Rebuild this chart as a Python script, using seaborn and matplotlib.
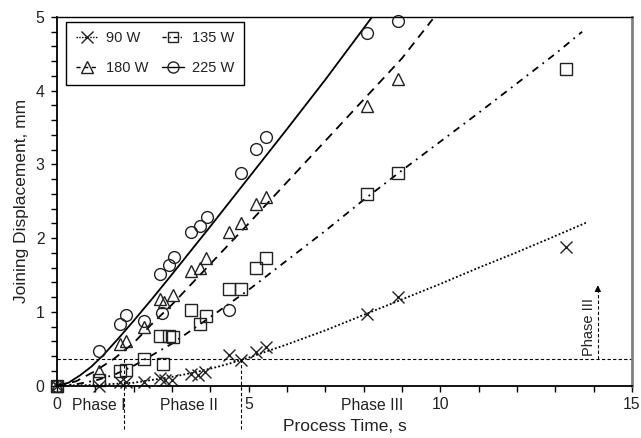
import matplotlib
matplotlib.use("Agg")
import matplotlib.pyplot as plt
from matplotlib.lines import Line2D
import seaborn as sns

# ---- measured points ----
t_90 = [0, 1.09, 1.65, 1.81, 2.28, 2.70, 2.83, 3.00, 3.50, 3.68, 3.85, 4.48, 4.80, 5.20, 5.44, 8.09, 8.89, 13.28]
d_90 = [0, 0.0, 0.05, 0.05, 0.05, 0.11, 0.08, 0.08, 0.16, 0.15, 0.18, 0.41, 0.35, 0.46, 0.53, 0.97, 1.20, 1.88]

t_135 = [0, 1.09, 1.65, 1.81, 2.28, 2.76, 2.70, 2.91, 3.03, 3.50, 3.74, 3.90, 4.48, 4.80, 5.19, 5.45, 8.09, 8.89, 13.28]
d_135 = [0, 0.08, 0.20, 0.21, 0.36, 0.30, 0.67, 0.67, 0.66, 1.02, 0.84, 0.94, 1.31, 1.31, 1.59, 1.73, 2.60, 2.89, 4.30]

t_180 = [0, 1.09, 1.65, 1.81, 2.28, 2.70, 2.78, 3.03, 3.50, 3.74, 3.90, 4.48, 4.80, 5.19, 5.45, 8.09, 8.89]
d_180 = [0, 0.20, 0.57, 0.61, 0.80, 1.18, 1.13, 1.23, 1.55, 1.60, 1.73, 2.09, 2.20, 2.46, 2.56, 3.79, 4.16]

t_225 = [0, 1.09, 1.65, 1.81, 2.28, 2.74, 2.70, 2.91, 3.04, 3.50, 3.74, 3.92, 4.48, 4.81, 5.19, 5.45, 8.09, 8.89]
d_225 = [0, 0.47, 0.84, 0.96, 0.88, 0.98, 1.52, 1.64, 1.74, 2.09, 2.17, 2.29, 1.03, 2.88, 3.21, 3.37, 4.78, 4.95]

# ---- fitted curves ----
ft_90 = [0, 1, 2, 3, 3.5, 4, 4.5, 5, 6, 7, 8, 9, 10, 11, 12, 13, 13.8]
fd_90 = [0, 0.01, 0.04, 0.12, 0.17, 0.23, 0.30, 0.38, 0.56, 0.75, 0.96, 1.17, 1.38, 1.60, 1.81, 2.03, 2.21]

ft_135 = [0, 0.5, 1.0, 1.5, 2.0, 2.5, 3.0, 4.0, 5.0, 6.0, 7.0, 8.0, 9.0, 10, 11, 12, 13, 13.7]
fd_135 = [0, 0.02, 0.07, 0.15, 0.27, 0.42, 0.57, 0.93, 1.30, 1.70, 2.10, 2.52, 2.92, 3.31, 3.70, 4.10, 4.50, 4.80]

ft_180 = [0, 0.5, 1.0, 1.5, 2.0, 2.5, 3.0, 4.0, 5.0, 6.0, 7.0, 8.0, 9.0, 9.8]
fd_180 = [0, 0.06, 0.20, 0.37, 0.58, 0.85, 1.10, 1.65, 2.20, 2.76, 3.32, 3.88, 4.44, 4.97]

ft_225 = [0, 0.3, 0.6, 0.9, 1.2, 1.6, 2.0, 2.5, 3.0, 4.0, 5.0, 6.0, 7.0, 8.22]
fd_225 = [0, 0.04, 0.14, 0.26, 0.41, 0.64, 0.88, 1.19, 1.51, 2.16, 2.82, 3.48, 4.15, 5.0]

labels = ["90 W", "135 W", "180 W", "225 W"]
phase_labels = ["Phase I", "Phase II", "Phase III"]
phase_level = 0.36
phase_bounds = [1.76, 4.80]

sns.set_style("ticks")
plt.rcParams["font.family"] = ["Liberation Sans", "DejaVu Sans"]

fig = plt.figure(figsize=(6.41, 4.38), dpi=100)
ax = fig.add_axes([0.0889, 0.1194, 0.8970, 0.8418])

ink = "#222222"
lw = 1.3
styles = [
    (ft_90, fd_90, t_90, d_90, (0, (1, 1.2)), "x", 8.5),
    (ft_135, fd_135, t_135, d_135, (0, (4, 3, 1, 3)), "s", 8),
    (ft_180, fd_180, t_180, d_180, (0, (5, 3.5)), "^", 8.5),
    (ft_225, fd_225, t_225, d_225, "-", "o", 8.5),
]
leg_styles = [(0, (1, 1)), (0, (3, 2, 1, 2)), (0, (3, 2.5)), "-"]

handles = []
for (ft, fd, t, d, ls, mk, ms), lab, lls in zip(styles, labels, leg_styles):
    sns.lineplot(x=ft, y=fd, ax=ax, color="black", linestyle=ls, linewidth=lw,
                 estimator=None, sort=False)
    l = sns.lineplot(x=t, y=d, ax=ax, estimator=None, sort=False, linestyle="none",
                     marker=mk, markersize=ms, markerfacecolor="none",
                     markeredgecolor=ink, markeredgewidth=1.0, color=ink)
    l.lines[-1].set_clip_on(False)
    handles.append(Line2D([], [], color="black", linestyle=lls, linewidth=1.0,
                          marker=mk, markersize=ms - 0.5, markerfacecolor="none",
                          markeredgecolor=ink, markeredgewidth=1.0))

# phase annotations
ax.axhline(phase_level, color="black", linestyle=(0, (3, 2)), linewidth=0.8)
for xb in phase_bounds:
    ax.plot([xb, xb], [phase_level, -0.62], color="black", linestyle=(0, (3, 2)),
            linewidth=0.8, clip_on=False)
ax.text(0.40, -0.265, phase_labels[0], ha="left", va="center", fontsize=11.3, color=ink)
ax.text(3.43, -0.265, phase_labels[1], ha="center", va="center", fontsize=11.3, color=ink)
ax.text(8.22, -0.265, phase_labels[2], ha="center", va="center", fontsize=11.3, color=ink)

ax.plot([14.11, 14.11], [phase_level, 1.28], color="black", linestyle=(0, (3, 2)), linewidth=0.8)
ax.annotate("", xy=(14.11, 1.40), xytext=(14.11, 1.26),
            arrowprops=dict(arrowstyle="-|>", color="black", lw=0.8, mutation_scale=9))
ax.text(13.87, 0.80, "Phase III", rotation=90, ha="center", va="center", fontsize=10.5, color=ink)

ax.set_xlim(0, 15)
ax.set_ylim(0, 5)
ax.set_xticks([0, 5, 10, 15])
ax.set_xticks(range(0, 16), minor=True)
ax.set_yticks([0, 1, 2, 3, 4, 5])
ax.set_yticks([i * 0.2 for i in range(26)], minor=True)
ax.tick_params(which="both", direction="out", length=4, width=1, color="black",
               labelsize=11.3, labelcolor=ink, top=False, right=False)
ax.tick_params(axis="x", pad=4)
ax.tick_params(axis="y", pad=5)

ax.set_xlabel("Process Time, s", fontsize=12.5, color=ink, labelpad=5)
ax.set_ylabel("Joining Displacement, mm", fontsize=12.5, color=ink, labelpad=5)

for side in ["left", "bottom", "top"]:
    ax.spines[side].set_visible(True)
    ax.spines[side].set_color("black")
    ax.spines[side].set_linewidth(1.3)
ax.spines["top"].set_linewidth(1.0)
ax.spines["right"].set_visible(True)
ax.spines["right"].set_color("#808080")
ax.spines["right"].set_linewidth(2.0)

# legend filled column-wise: reorder so rows read 90/135 and 180/225
order = [0, 2, 1, 3]
leg = ax.legend([handles[i] for i in order], [labels[i] for i in order], ncol=2,
                loc="upper left", bbox_to_anchor=(0.016, 0.987),
                borderaxespad=0, fontsize=10.5, frameon=True, fancybox=False,
                edgecolor="black", framealpha=1, handlelength=1.5, handletextpad=0.6,
                columnspacing=0.9, labelspacing=1.1, borderpad=0.65)
leg.get_frame().set_linewidth(1.0)
for txt in leg.get_texts():
    txt.set_color(ink)

fig.savefig("out.png", dpi=100)
